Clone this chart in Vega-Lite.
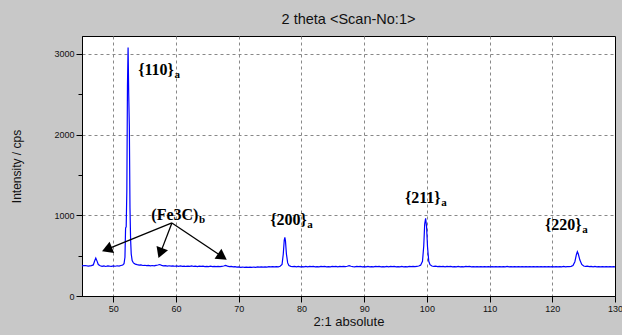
{
  "$schema": "https://vega.github.io/schema/vega-lite/v6.json",
  "width": 533,
  "height": 260,
  "autosize": "none",
  "padding": {"left": 82, "top": 36, "right": 7, "bottom": 39},
  "background": "#c8c8c8",
  "config": {
    "view": {"fill": "white", "stroke": "#000", "strokeWidth": 1},
    "font": "Liberation Sans"
  },
  "title": {"text": "2 theta <Scan-No:1>", "fontSize": 14.5, "fontWeight": "normal", "color": "#111", "offset": 9, "anchor": "middle", "font": "Liberation Sans"},
  "datasets": {
    "scan": [
      {"t":45.0,"i":372},{"t":45.5,"i":378},{"t":46.0,"i":370},{"t":46.5,"i":376},{"t":46.8,"i":385},{"t":47.0,"i":430},{"t":47.2,"i":470},{"t":47.4,"i":432},{"t":47.6,"i":390},{"t":47.9,"i":374},
      {"t":48.2,"i":368},{"t":48.5,"i":372},{"t":48.8,"i":366},{"t":49.1,"i":374},{"t":49.4,"i":370},{"t":49.7,"i":368},{"t":50.0,"i":372},{"t":50.3,"i":369},{"t":50.6,"i":375},{"t":50.9,"i":371},
      {"t":51.2,"i":378},{"t":51.5,"i":384},{"t":51.7,"i":400},{"t":51.85,"i":480},{"t":51.95,"i":840},{"t":52.05,"i":860},{"t":52.15,"i":1300},{"t":52.25,"i":2600},{"t":52.35,"i":3080},{"t":52.45,"i":2500},
      {"t":52.55,"i":2100},{"t":52.65,"i":1100},{"t":52.75,"i":700},{"t":52.85,"i":520},{"t":53.0,"i":440},{"t":53.2,"i":410},{"t":53.5,"i":395},{"t":53.8,"i":388},{"t":54.1,"i":382},{"t":54.4,"i":385},
      {"t":54.7,"i":378},{"t":55.0,"i":381},{"t":55.3,"i":376},{"t":55.6,"i":380},{"t":55.9,"i":374},{"t":56.2,"i":378},{"t":56.5,"i":373},{"t":56.8,"i":379},{"t":57.1,"i":384},{"t":57.4,"i":390},
      {"t":57.7,"i":380},{"t":58.0,"i":374},{"t":58.3,"i":377},{"t":58.6,"i":371},{"t":58.9,"i":375},{"t":59.2,"i":370},{"t":59.5,"i":374},{"t":59.8,"i":369},{"t":60.1,"i":373},{"t":60.4,"i":368},
      {"t":60.7,"i":372},{"t":61.0,"i":367},{"t":61.3,"i":371},{"t":61.6,"i":366},{"t":61.9,"i":370},{"t":62.2,"i":368},{"t":62.5,"i":372},{"t":62.8,"i":366},{"t":63.1,"i":369},{"t":63.4,"i":365},
      {"t":63.7,"i":370},{"t":64.0,"i":366},{"t":64.3,"i":369},{"t":64.6,"i":364},{"t":64.9,"i":368},{"t":65.2,"i":365},{"t":65.5,"i":369},{"t":65.8,"i":364},{"t":66.1,"i":367},{"t":66.4,"i":363},
      {"t":66.7,"i":368},{"t":67.0,"i":364},{"t":67.3,"i":368},{"t":67.6,"i":372},{"t":67.9,"i":378},{"t":68.2,"i":370},{"t":68.5,"i":364},{"t":68.8,"i":366},{"t":69.1,"i":360},{"t":69.4,"i":363},
      {"t":69.7,"i":358},{"t":70.0,"i":361},{"t":70.3,"i":356},{"t":70.6,"i":359},{"t":70.9,"i":355},{"t":71.2,"i":358},{"t":71.5,"i":354},{"t":71.8,"i":358},{"t":72.1,"i":355},{"t":72.4,"i":359},
      {"t":72.7,"i":356},{"t":73.0,"i":360},{"t":73.3,"i":357},{"t":73.6,"i":361},{"t":73.9,"i":358},{"t":74.2,"i":362},{"t":74.5,"i":359},{"t":74.8,"i":363},{"t":75.1,"i":360},{"t":75.4,"i":364},
      {"t":75.7,"i":361},{"t":76.0,"i":365},{"t":76.3,"i":362},{"t":76.6,"i":368},{"t":76.9,"i":390},{"t":77.1,"i":520},{"t":77.25,"i":690},{"t":77.35,"i":728},{"t":77.45,"i":680},{"t":77.6,"i":520},
      {"t":77.8,"i":410},{"t":78.0,"i":378},{"t":78.3,"i":368},{"t":78.6,"i":364},{"t":78.9,"i":367},{"t":79.2,"i":362},{"t":79.5,"i":366},{"t":79.8,"i":361},{"t":80.1,"i":365},{"t":80.4,"i":361},
      {"t":80.7,"i":366},{"t":81.0,"i":362},{"t":81.3,"i":367},{"t":81.6,"i":363},{"t":81.9,"i":366},{"t":82.2,"i":361},{"t":82.5,"i":365},{"t":82.8,"i":362},{"t":83.1,"i":367},{"t":83.4,"i":363},
      {"t":83.7,"i":366},{"t":84.0,"i":362},{"t":84.3,"i":365},{"t":84.6,"i":361},{"t":84.9,"i":366},{"t":85.2,"i":363},{"t":85.5,"i":367},{"t":85.8,"i":362},{"t":86.1,"i":366},{"t":86.4,"i":363},
      {"t":86.7,"i":368},{"t":87.0,"i":365},{"t":87.3,"i":369},{"t":87.6,"i":376},{"t":87.9,"i":369},{"t":88.2,"i":365},{"t":88.5,"i":362},{"t":88.8,"i":367},{"t":89.1,"i":363},{"t":89.4,"i":366},
      {"t":89.7,"i":361},{"t":90.0,"i":365},{"t":90.3,"i":362},{"t":90.6,"i":366},{"t":90.9,"i":361},{"t":91.2,"i":365},{"t":91.5,"i":362},{"t":91.8,"i":367},{"t":92.1,"i":363},{"t":92.4,"i":366},
      {"t":92.7,"i":362},{"t":93.0,"i":365},{"t":93.3,"i":361},{"t":93.6,"i":366},{"t":93.9,"i":362},{"t":94.2,"i":366},{"t":94.5,"i":363},{"t":94.8,"i":367},{"t":95.1,"i":362},{"t":95.4,"i":365},
      {"t":95.7,"i":361},{"t":96.0,"i":366},{"t":96.3,"i":362},{"t":96.6,"i":365},{"t":96.9,"i":362},{"t":97.2,"i":367},{"t":97.5,"i":363},{"t":97.8,"i":366},{"t":98.1,"i":364},{"t":98.4,"i":368},
      {"t":98.7,"i":372},{"t":99.0,"i":382},{"t":99.3,"i":430},{"t":99.5,"i":620},{"t":99.65,"i":890},{"t":99.8,"i":962},{"t":99.95,"i":860},{"t":100.1,"i":610},{"t":100.3,"i":430},{"t":100.5,"i":388},
      {"t":100.8,"i":372},{"t":101.1,"i":366},{"t":101.4,"i":369},{"t":101.7,"i":364},{"t":102.0,"i":368},{"t":102.3,"i":363},{"t":102.6,"i":367},{"t":102.9,"i":362},{"t":103.2,"i":366},{"t":103.5,"i":363},
      {"t":103.8,"i":367},{"t":104.1,"i":362},{"t":104.4,"i":365},{"t":104.7,"i":361},{"t":105.0,"i":366},{"t":105.3,"i":362},{"t":105.6,"i":365},{"t":105.9,"i":361},{"t":106.2,"i":366},{"t":106.5,"i":363},
      {"t":106.8,"i":367},{"t":107.1,"i":362},{"t":107.4,"i":365},{"t":107.7,"i":361},{"t":108.0,"i":364},{"t":108.3,"i":360},{"t":108.6,"i":365},{"t":108.9,"i":361},{"t":109.2,"i":364},{"t":109.5,"i":360},
      {"t":109.8,"i":365},{"t":110.1,"i":361},{"t":110.4,"i":364},{"t":110.7,"i":360},{"t":111.0,"i":365},{"t":111.3,"i":361},{"t":111.6,"i":364},{"t":111.9,"i":360},{"t":112.2,"i":365},{"t":112.5,"i":362},
      {"t":112.8,"i":366},{"t":113.1,"i":361},{"t":113.4,"i":364},{"t":113.7,"i":360},{"t":114.0,"i":365},{"t":114.3,"i":361},{"t":114.6,"i":364},{"t":114.9,"i":360},{"t":115.2,"i":364},{"t":115.5,"i":361},
      {"t":115.8,"i":365},{"t":116.1,"i":360},{"t":116.4,"i":364},{"t":116.7,"i":361},{"t":117.0,"i":365},{"t":117.3,"i":360},{"t":117.6,"i":364},{"t":117.9,"i":361},{"t":118.2,"i":365},{"t":118.5,"i":361},
      {"t":118.8,"i":364},{"t":119.1,"i":360},{"t":119.4,"i":364},{"t":119.7,"i":361},{"t":120.0,"i":365},{"t":120.3,"i":361},{"t":120.6,"i":364},{"t":120.9,"i":360},{"t":121.2,"i":365},{"t":121.5,"i":362},
      {"t":121.8,"i":366},{"t":122.1,"i":361},{"t":122.4,"i":365},{"t":122.7,"i":363},{"t":123.0,"i":368},{"t":123.3,"i":378},{"t":123.6,"i":425},{"t":123.85,"i":515},{"t":124.0,"i":549},{"t":124.15,"i":520},
      {"t":124.4,"i":445},{"t":124.7,"i":392},{"t":125.0,"i":372},{"t":125.3,"i":366},{"t":125.6,"i":370},{"t":125.9,"i":364},{"t":126.2,"i":367},{"t":126.5,"i":362},{"t":126.8,"i":366},{"t":127.1,"i":361},
      {"t":127.4,"i":365},{"t":127.7,"i":360},{"t":128.0,"i":364},{"t":128.3,"i":361},{"t":128.6,"i":365},{"t":128.9,"i":360},{"t":129.2,"i":364},{"t":129.5,"i":361},{"t":129.8,"i":364},{"t":130.0,"i":362}
    ],
    "labels": [
      {"t": 59.66, "i": 2800, "label": "{110}", "sub": "a"},
      {"t": 80.86, "i": 942, "label": "{200}", "sub": "a"},
      {"t": 102.2, "i": 1210, "label": "{211}", "sub": "a"},
      {"t": 124.68, "i": 880, "label": "{220}", "sub": "a"},
      {"t": 63.57, "i": 1004, "label": "(Fe3C)", "sub": "b"}
    ],
    "arrows": [
      {"id": 1, "t": 59.34, "i": 905, "t2": 49.24, "i2": 586},
      {"id": 2, "t": 59.34, "i": 905, "t2": 57.6, "i2": 553},
      {"id": 3, "t": 59.34, "i": 905, "t2": 67.15, "i2": 499}
    ]
  },
  "layer": [
    {
      "data": {"name": "scan"},
      "mark": {"type": "line", "color": "#0000ff", "strokeWidth": 1.2, "clip": true},
      "encoding": {
        "x": {
          "field": "t", "type": "quantitative",
          "scale": {"domain": [45, 130], "nice": false, "zero": false},
          "axis": {
            "title": "2:1 absolute", "titleFontSize": 13, "titleFontWeight": "normal", "titleColor": "#111", "titlePadding": 2,
            "values": [50,55,60,65,70,75,80,85,90,95,100,105,110,115,120,125,130],
            "labelExpr": "datum.value % 10 === 0 ? datum.label : ''",
            "labelFontSize": 9, "labelColor": "#111", "labelPadding": 2, "labelFlush": false,
            "domainColor": "#000", "tickColor": "#000",
            "tickSize": {"condition": {"test": "datum.value % 10 === 0", "value": 6}, "value": 4},
            "grid": true, "gridColor": "#888", "gridDash": [3, 3],
            "gridOpacity": {"condition": {"test": "datum.value % 10 === 0 && datum.value < 130", "value": 1}, "value": 0}
          }
        },
        "y": {
          "field": "i", "type": "quantitative",
          "scale": {"domain": [0, 3222], "nice": false},
          "axis": {
            "title": "Intensity / cps", "titleFontSize": 12, "titleFontWeight": "normal", "titleColor": "#111",
            "titleX": -66, "titleY": 130, "titleAlign": "center", "titleBaseline": "middle", "titleAngle": -90,
            "values": [0,500,1000,1500,2000,2500,3000],
            "labelExpr": "datum.value % 1000 === 0 ? datum.label : ''",
            "format": "d",
            "labelFontSize": 9, "labelColor": "#111", "labelPadding": 2, "labelFlush": false,
            "domainColor": "#000", "tickColor": "#000",
            "tickSize": {"condition": {"test": "datum.value % 1000 === 0", "value": 6}, "value": 4},
            "grid": true, "gridColor": "#888", "gridDash": [3, 3],
            "gridOpacity": {"condition": {"test": "datum.value % 1000 === 0 && datum.value > 0", "value": 1}, "value": 0}
          }
        }
      }
    },
    {
      "data": {"name": "arrows"},
      "mark": {"type": "rule", "color": "#000", "strokeWidth": 1.3},
      "encoding": {
        "x": {"field": "t", "type": "quantitative"},
        "y": {"field": "i", "type": "quantitative"},
        "x2": {"field": "t2"},
        "y2": {"field": "i2"}
      }
    },
    {
      "data": {"name": "arrows"},
      "transform": [{"filter": "datum.id === 1"}],
      "mark": {"type": "point", "shape": "triangle", "filled": true, "color": "#000", "opacity": 1, "size": 150, "angle": 248},
      "encoding": {"x": {"field": "t2", "type": "quantitative"}, "y": {"field": "i2", "type": "quantitative"}}
    },
    {
      "data": {"name": "arrows"},
      "transform": [{"filter": "datum.id === 2"}],
      "mark": {"type": "point", "shape": "triangle", "filled": true, "color": "#000", "opacity": 1, "size": 150, "angle": 201},
      "encoding": {"x": {"field": "t2", "type": "quantitative"}, "y": {"field": "i2", "type": "quantitative"}}
    },
    {
      "data": {"name": "arrows"},
      "transform": [{"filter": "datum.id === 3"}],
      "mark": {"type": "point", "shape": "triangle", "filled": true, "color": "#000", "opacity": 1, "size": 150, "angle": 124},
      "encoding": {"x": {"field": "t2", "type": "quantitative"}, "y": {"field": "i2", "type": "quantitative"}}
    },
    {
      "data": {"name": "labels"},
      "mark": {"type": "text", "font": "Liberation Serif", "fontWeight": "bold", "fontSize": 16, "align": "right", "baseline": "middle", "color": "#000"},
      "encoding": {
        "x": {"field": "t", "type": "quantitative"},
        "y": {"field": "i", "type": "quantitative"},
        "text": {"field": "label"}
      }
    },
    {
      "data": {"name": "labels"},
      "mark": {"type": "text", "font": "Liberation Serif", "fontWeight": "bold", "fontSize": 11, "align": "left", "baseline": "middle", "dy": 5, "dx": 0.5, "color": "#000"},
      "encoding": {
        "x": {"field": "t", "type": "quantitative"},
        "y": {"field": "i", "type": "quantitative"},
        "text": {"field": "sub"}
      }
    }
  ]
}
